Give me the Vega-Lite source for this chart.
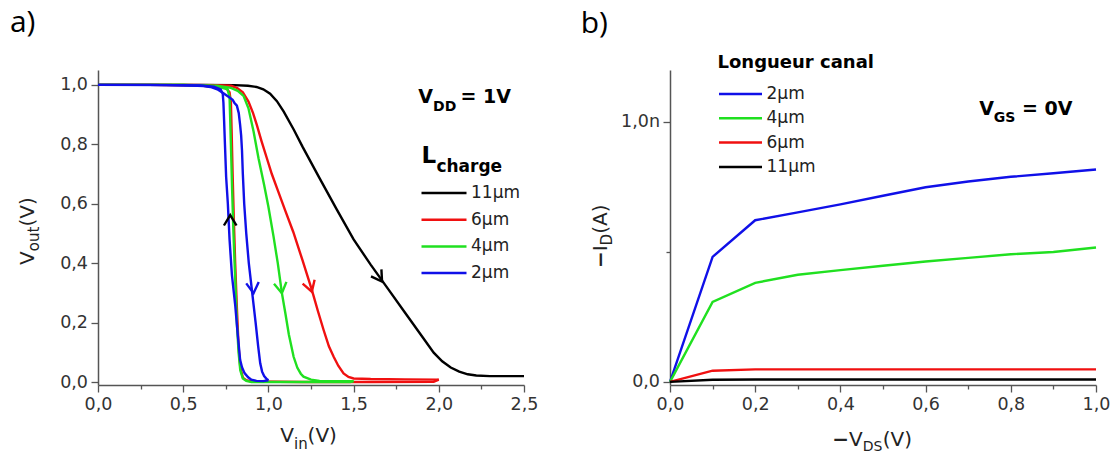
{
  "$schema": "https://vega.github.io/schema/vega-lite/v6.json",
  "background": "white",
  "padding": {"left": 9, "top": 7, "right": 0, "bottom": 0},
  "spacing": 146,
  "bounds": "flush",
  "config": {
    "font": "DejaVu Sans",
    "view": {"stroke": null},
    "axis": {
      "labelFont": "DejaVu Sans", "labelFontSize": 17.5, "labelColor": "#333",
      "domainColor": "#555", "domainWidth": 1.5, "tickColor": "#555", "tickWidth": 1.3,
      "grid": false, "title": null, "labelPadding": 3.5, "labelOverlap": false, "labelFlush": false, "labelBound": false
    },
    "legend": {
      "orient": "none", "padding": 0, "symbolType": "stroke", "symbolStrokeWidth": 2.5,
      "clipHeight": 20, "labelFont": "DejaVu Sans", "labelFontSize": 17, "labelColor": "#222",
      "labelOffset": 3, "symbolOpacity": 1
    },
    "text": {"color": "#000"}
  },
  "resolve": {
    "scale": {"x": "independent", "y": "independent", "color": "independent", "stroke": "independent"},
    "legend": {"color": "independent", "stroke": "independent"}
  },
  "datasets": {
    "one": [{}],
    "transfer": [
      {"L": "11µm", "s": "11f", "i": 0, "vin": 0, "vout": 1.0},
      {"L": "11µm", "s": "11f", "i": 1, "vin": 0.3, "vout": 1.0},
      {"L": "11µm", "s": "11f", "i": 2, "vin": 0.6, "vout": 1.0},
      {"L": "11µm", "s": "11f", "i": 3, "vin": 0.8, "vout": 0.999},
      {"L": "11µm", "s": "11f", "i": 4, "vin": 0.88, "vout": 0.997},
      {"L": "11µm", "s": "11f", "i": 5, "vin": 0.93, "vout": 0.993},
      {"L": "11µm", "s": "11f", "i": 6, "vin": 0.97, "vout": 0.985},
      {"L": "11µm", "s": "11f", "i": 7, "vin": 1.01, "vout": 0.97},
      {"L": "11µm", "s": "11f", "i": 8, "vin": 1.05, "vout": 0.945},
      {"L": "11µm", "s": "11f", "i": 9, "vin": 1.09, "vout": 0.91},
      {"L": "11µm", "s": "11f", "i": 10, "vin": 1.15, "vout": 0.848},
      {"L": "11µm", "s": "11f", "i": 11, "vin": 1.2, "vout": 0.792},
      {"L": "11µm", "s": "11f", "i": 12, "vin": 1.3, "vout": 0.686},
      {"L": "11µm", "s": "11f", "i": 13, "vin": 1.4, "vout": 0.582},
      {"L": "11µm", "s": "11f", "i": 14, "vin": 1.5, "vout": 0.48},
      {"L": "11µm", "s": "11f", "i": 15, "vin": 1.6, "vout": 0.395},
      {"L": "11µm", "s": "11f", "i": 16, "vin": 1.7, "vout": 0.315},
      {"L": "11µm", "s": "11f", "i": 17, "vin": 1.8, "vout": 0.235},
      {"L": "11µm", "s": "11f", "i": 18, "vin": 1.9, "vout": 0.155},
      {"L": "11µm", "s": "11f", "i": 19, "vin": 1.97, "vout": 0.099},
      {"L": "11µm", "s": "11f", "i": 20, "vin": 2.02, "vout": 0.07},
      {"L": "11µm", "s": "11f", "i": 21, "vin": 2.07, "vout": 0.049},
      {"L": "11µm", "s": "11f", "i": 22, "vin": 2.12, "vout": 0.035},
      {"L": "11µm", "s": "11f", "i": 23, "vin": 2.17, "vout": 0.026},
      {"L": "11µm", "s": "11f", "i": 24, "vin": 2.22, "vout": 0.022},
      {"L": "11µm", "s": "11f", "i": 25, "vin": 2.3, "vout": 0.02},
      {"L": "11µm", "s": "11f", "i": 26, "vin": 2.4, "vout": 0.02},
      {"L": "11µm", "s": "11f", "i": 27, "vin": 2.5, "vout": 0.02},

      {"L": "6µm", "s": "6f", "i": 0, "vin": 0, "vout": 1.0},
      {"L": "6µm", "s": "6f", "i": 1, "vin": 0.5, "vout": 1.0},
      {"L": "6µm", "s": "6f", "i": 2, "vin": 0.7, "vout": 0.999},
      {"L": "6µm", "s": "6f", "i": 3, "vin": 0.78, "vout": 0.997},
      {"L": "6µm", "s": "6f", "i": 4, "vin": 0.815, "vout": 0.99},
      {"L": "6µm", "s": "6f", "i": 5, "vin": 0.85, "vout": 0.975},
      {"L": "6µm", "s": "6f", "i": 6, "vin": 0.883, "vout": 0.944},
      {"L": "6µm", "s": "6f", "i": 7, "vin": 0.91, "vout": 0.905},
      {"L": "6µm", "s": "6f", "i": 8, "vin": 0.932, "vout": 0.865},
      {"L": "6µm", "s": "6f", "i": 9, "vin": 0.96, "vout": 0.81},
      {"L": "6µm", "s": "6f", "i": 10, "vin": 0.991, "vout": 0.753},
      {"L": "6µm", "s": "6f", "i": 11, "vin": 1.02, "vout": 0.7},
      {"L": "6µm", "s": "6f", "i": 12, "vin": 1.052, "vout": 0.65},
      {"L": "6µm", "s": "6f", "i": 13, "vin": 1.1, "vout": 0.575},
      {"L": "6µm", "s": "6f", "i": 14, "vin": 1.146, "vout": 0.505},
      {"L": "6µm", "s": "6f", "i": 15, "vin": 1.2, "vout": 0.41},
      {"L": "6µm", "s": "6f", "i": 16, "vin": 1.255, "vout": 0.31},
      {"L": "6µm", "s": "6f", "i": 17, "vin": 1.29, "vout": 0.24},
      {"L": "6µm", "s": "6f", "i": 18, "vin": 1.324, "vout": 0.175},
      {"L": "6µm", "s": "6f", "i": 19, "vin": 1.355, "vout": 0.12},
      {"L": "6µm", "s": "6f", "i": 20, "vin": 1.383, "vout": 0.085},
      {"L": "6µm", "s": "6f", "i": 21, "vin": 1.41, "vout": 0.055},
      {"L": "6µm", "s": "6f", "i": 22, "vin": 1.441, "vout": 0.029},
      {"L": "6µm", "s": "6f", "i": 23, "vin": 1.47, "vout": 0.017},
      {"L": "6µm", "s": "6f", "i": 24, "vin": 1.5, "vout": 0.012},
      {"L": "6µm", "s": "6f", "i": 25, "vin": 1.6, "vout": 0.01},
      {"L": "6µm", "s": "6f", "i": 26, "vin": 1.8, "vout": 0.009},
      {"L": "6µm", "s": "6f", "i": 27, "vin": 2.0, "vout": 0.008},
      {"L": "6µm", "s": "6r", "i": 0, "vin": 2.0, "vout": 0.008},
      {"L": "6µm", "s": "6r", "i": 1, "vin": 1.97, "vout": 0.001},
      {"L": "6µm", "s": "6r", "i": 2, "vin": 1.6, "vout": 0.0},
      {"L": "6µm", "s": "6r", "i": 3, "vin": 1.2, "vout": 0.0},
      {"L": "6µm", "s": "6r", "i": 4, "vin": 0.9, "vout": 0.002},
      {"L": "6µm", "s": "6r", "i": 5, "vin": 0.87, "vout": 0.006},
      {"L": "6µm", "s": "6r", "i": 6, "vin": 0.85, "vout": 0.015},
      {"L": "6µm", "s": "6r", "i": 7, "vin": 0.835, "vout": 0.05},
      {"L": "6µm", "s": "6r", "i": 8, "vin": 0.825, "vout": 0.12},
      {"L": "6µm", "s": "6r", "i": 9, "vin": 0.815, "vout": 0.25},
      {"L": "6µm", "s": "6r", "i": 10, "vin": 0.805, "vout": 0.4},
      {"L": "6µm", "s": "6r", "i": 11, "vin": 0.797, "vout": 0.55},
      {"L": "6µm", "s": "6r", "i": 12, "vin": 0.79, "vout": 0.7},
      {"L": "6µm", "s": "6r", "i": 13, "vin": 0.784, "vout": 0.85},
      {"L": "6µm", "s": "6r", "i": 14, "vin": 0.78, "vout": 0.94},
      {"L": "6µm", "s": "6r", "i": 15, "vin": 0.772, "vout": 0.975},
      {"L": "6µm", "s": "6r", "i": 16, "vin": 0.75, "vout": 0.99},
      {"L": "6µm", "s": "6r", "i": 17, "vin": 0.6, "vout": 0.998},
      {"L": "6µm", "s": "6r", "i": 18, "vin": 0.3, "vout": 1.0},
      {"L": "6µm", "s": "6r", "i": 19, "vin": 0, "vout": 1.0},

      {"L": "4µm", "s": "4f", "i": 0, "vin": 0, "vout": 1.0},
      {"L": "4µm", "s": "4f", "i": 1, "vin": 0.5, "vout": 1.0},
      {"L": "4µm", "s": "4f", "i": 2, "vin": 0.7, "vout": 0.997},
      {"L": "4µm", "s": "4f", "i": 3, "vin": 0.78, "vout": 0.99},
      {"L": "4µm", "s": "4f", "i": 4, "vin": 0.82, "vout": 0.98},
      {"L": "4µm", "s": "4f", "i": 5, "vin": 0.854, "vout": 0.963},
      {"L": "4µm", "s": "4f", "i": 6, "vin": 0.883, "vout": 0.921},
      {"L": "4µm", "s": "4f", "i": 7, "vin": 0.913, "vout": 0.843},
      {"L": "4µm", "s": "4f", "i": 8, "vin": 0.942, "vout": 0.753},
      {"L": "4µm", "s": "4f", "i": 9, "vin": 0.975, "vout": 0.663},
      {"L": "4µm", "s": "4f", "i": 10, "vin": 1.0, "vout": 0.59},
      {"L": "4µm", "s": "4f", "i": 11, "vin": 1.03, "vout": 0.49},
      {"L": "4µm", "s": "4f", "i": 12, "vin": 1.055, "vout": 0.4},
      {"L": "4µm", "s": "4f", "i": 13, "vin": 1.079, "vout": 0.3},
      {"L": "4µm", "s": "4f", "i": 14, "vin": 1.1, "vout": 0.23},
      {"L": "4µm", "s": "4f", "i": 15, "vin": 1.12, "vout": 0.16},
      {"L": "4µm", "s": "4f", "i": 16, "vin": 1.148, "vout": 0.085},
      {"L": "4µm", "s": "4f", "i": 17, "vin": 1.17, "vout": 0.048},
      {"L": "4µm", "s": "4f", "i": 18, "vin": 1.19, "vout": 0.028},
      {"L": "4µm", "s": "4f", "i": 19, "vin": 1.206, "vout": 0.018},
      {"L": "4µm", "s": "4f", "i": 20, "vin": 1.25, "vout": 0.008},
      {"L": "4µm", "s": "4f", "i": 21, "vin": 1.3, "vout": 0.004},
      {"L": "4µm", "s": "4f", "i": 22, "vin": 1.4, "vout": 0.003},
      {"L": "4µm", "s": "4f", "i": 23, "vin": 1.5, "vout": 0.003},
      {"L": "4µm", "s": "4r", "i": 0, "vin": 1.5, "vout": 0.003},
      {"L": "4µm", "s": "4r", "i": 1, "vin": 1.48, "vout": 0.0},
      {"L": "4µm", "s": "4r", "i": 2, "vin": 1.2, "vout": 0.0},
      {"L": "4µm", "s": "4r", "i": 3, "vin": 0.9, "vout": 0.0},
      {"L": "4µm", "s": "4r", "i": 4, "vin": 0.87, "vout": 0.004},
      {"L": "4µm", "s": "4r", "i": 5, "vin": 0.85, "vout": 0.012},
      {"L": "4µm", "s": "4r", "i": 6, "vin": 0.835, "vout": 0.04},
      {"L": "4µm", "s": "4r", "i": 7, "vin": 0.825, "vout": 0.1},
      {"L": "4µm", "s": "4r", "i": 8, "vin": 0.815, "vout": 0.2},
      {"L": "4µm", "s": "4r", "i": 9, "vin": 0.805, "vout": 0.35},
      {"L": "4µm", "s": "4r", "i": 10, "vin": 0.795, "vout": 0.5},
      {"L": "4µm", "s": "4r", "i": 11, "vin": 0.787, "vout": 0.65},
      {"L": "4µm", "s": "4r", "i": 12, "vin": 0.78, "vout": 0.8},
      {"L": "4µm", "s": "4r", "i": 13, "vin": 0.775, "vout": 0.9},
      {"L": "4µm", "s": "4r", "i": 14, "vin": 0.772, "vout": 0.96},
      {"L": "4µm", "s": "4r", "i": 15, "vin": 0.76, "vout": 0.985},
      {"L": "4µm", "s": "4r", "i": 16, "vin": 0.7, "vout": 0.995},
      {"L": "4µm", "s": "4r", "i": 17, "vin": 0.5, "vout": 1.0},
      {"L": "4µm", "s": "4r", "i": 18, "vin": 0, "vout": 1.0},

      {"L": "2µm", "s": "2f", "i": 0, "vin": 0, "vout": 1.0},
      {"L": "2µm", "s": "2f", "i": 1, "vin": 0.4, "vout": 0.999},
      {"L": "2µm", "s": "2f", "i": 2, "vin": 0.55, "vout": 0.998},
      {"L": "2µm", "s": "2f", "i": 3, "vin": 0.62, "vout": 0.996},
      {"L": "2µm", "s": "2f", "i": 4, "vin": 0.66, "vout": 0.993},
      {"L": "2µm", "s": "2f", "i": 5, "vin": 0.7, "vout": 0.985},
      {"L": "2µm", "s": "2f", "i": 6, "vin": 0.736, "vout": 0.972},
      {"L": "2µm", "s": "2f", "i": 7, "vin": 0.77, "vout": 0.958},
      {"L": "2µm", "s": "2f", "i": 8, "vin": 0.79, "vout": 0.95},
      {"L": "2µm", "s": "2f", "i": 9, "vin": 0.8, "vout": 0.94},
      {"L": "2µm", "s": "2f", "i": 10, "vin": 0.815, "vout": 0.93},
      {"L": "2µm", "s": "2f", "i": 11, "vin": 0.826, "vout": 0.905},
      {"L": "2µm", "s": "2f", "i": 12, "vin": 0.834, "vout": 0.865},
      {"L": "2µm", "s": "2f", "i": 13, "vin": 0.84, "vout": 0.83},
      {"L": "2µm", "s": "2f", "i": 14, "vin": 0.845, "vout": 0.78},
      {"L": "2µm", "s": "2f", "i": 15, "vin": 0.85, "vout": 0.7},
      {"L": "2µm", "s": "2f", "i": 16, "vin": 0.858, "vout": 0.6},
      {"L": "2µm", "s": "2f", "i": 17, "vin": 0.87, "vout": 0.5},
      {"L": "2µm", "s": "2f", "i": 18, "vin": 0.885, "vout": 0.4},
      {"L": "2µm", "s": "2f", "i": 19, "vin": 0.905, "vout": 0.3},
      {"L": "2µm", "s": "2f", "i": 20, "vin": 0.925, "vout": 0.2},
      {"L": "2µm", "s": "2f", "i": 21, "vin": 0.94, "vout": 0.12},
      {"L": "2µm", "s": "2f", "i": 22, "vin": 0.952, "vout": 0.063},
      {"L": "2µm", "s": "2f", "i": 23, "vin": 0.963, "vout": 0.035},
      {"L": "2µm", "s": "2f", "i": 24, "vin": 0.975, "vout": 0.02},
      {"L": "2µm", "s": "2f", "i": 25, "vin": 0.99, "vout": 0.01},
      {"L": "2µm", "s": "2f", "i": 26, "vin": 1.0, "vout": 0.006},
      {"L": "2µm", "s": "2r", "i": 0, "vin": 1.0, "vout": 0.006},
      {"L": "2µm", "s": "2r", "i": 1, "vin": 0.97, "vout": 0.003},
      {"L": "2µm", "s": "2r", "i": 2, "vin": 0.93, "vout": 0.004},
      {"L": "2µm", "s": "2r", "i": 3, "vin": 0.9, "vout": 0.008},
      {"L": "2µm", "s": "2r", "i": 4, "vin": 0.881, "vout": 0.016},
      {"L": "2µm", "s": "2r", "i": 5, "vin": 0.86, "vout": 0.03},
      {"L": "2µm", "s": "2r", "i": 6, "vin": 0.845, "vout": 0.05},
      {"L": "2µm", "s": "2r", "i": 7, "vin": 0.834, "vout": 0.075},
      {"L": "2µm", "s": "2r", "i": 8, "vin": 0.82, "vout": 0.16},
      {"L": "2µm", "s": "2r", "i": 9, "vin": 0.805, "vout": 0.26},
      {"L": "2µm", "s": "2r", "i": 10, "vin": 0.786, "vout": 0.36},
      {"L": "2µm", "s": "2r", "i": 11, "vin": 0.772, "vout": 0.48},
      {"L": "2µm", "s": "2r", "i": 12, "vin": 0.762, "vout": 0.6},
      {"L": "2µm", "s": "2r", "i": 13, "vin": 0.752, "vout": 0.69},
      {"L": "2µm", "s": "2r", "i": 14, "vin": 0.745, "vout": 0.8},
      {"L": "2µm", "s": "2r", "i": 15, "vin": 0.74, "vout": 0.88},
      {"L": "2µm", "s": "2r", "i": 16, "vin": 0.736, "vout": 0.94},
      {"L": "2µm", "s": "2r", "i": 17, "vin": 0.732, "vout": 0.97},
      {"L": "2µm", "s": "2r", "i": 18, "vin": 0.72, "vout": 0.985},
      {"L": "2µm", "s": "2r", "i": 19, "vin": 0.68, "vout": 0.994},
      {"L": "2µm", "s": "2r", "i": 20, "vin": 0.6, "vout": 0.998},
      {"L": "2µm", "s": "2r", "i": 21, "vin": 0.3, "vout": 1.0},
      {"L": "2µm", "s": "2r", "i": 22, "vin": 0, "vout": 1.0}
    ],
    "arrows": [
      {"L": "2µm", "vin": 0.913, "vout": 0.299, "heading": -6},
      {"L": "4µm", "vin": 1.079, "vout": 0.299, "heading": -9},
      {"L": "6µm", "vin": 1.255, "vout": 0.304, "heading": -18},
      {"L": "11µm", "vin": 1.667, "vout": 0.338, "heading": -34},
      {"L": "11µm", "vin": 0.776, "vout": 0.562, "heading": 180}
    ],
    "current": [
      {"L": "2µm", "vds": 0, "id": 0}, {"L": "2µm", "vds": 0.1, "id": 0.481}, {"L": "2µm", "vds": 0.2, "id": 0.622},
      {"L": "2µm", "vds": 0.3, "id": 0.652}, {"L": "2µm", "vds": 0.4, "id": 0.683}, {"L": "2µm", "vds": 0.5, "id": 0.716},
      {"L": "2µm", "vds": 0.6, "id": 0.749}, {"L": "2µm", "vds": 0.7, "id": 0.771}, {"L": "2µm", "vds": 0.8, "id": 0.789},
      {"L": "2µm", "vds": 0.9, "id": 0.803}, {"L": "2µm", "vds": 1.0, "id": 0.817},
      {"L": "4µm", "vds": 0, "id": 0}, {"L": "4µm", "vds": 0.1, "id": 0.308}, {"L": "4µm", "vds": 0.2, "id": 0.381},
      {"L": "4µm", "vds": 0.3, "id": 0.412}, {"L": "4µm", "vds": 0.4, "id": 0.43}, {"L": "4µm", "vds": 0.5, "id": 0.447},
      {"L": "4µm", "vds": 0.6, "id": 0.463}, {"L": "4µm", "vds": 0.7, "id": 0.477}, {"L": "4µm", "vds": 0.8, "id": 0.491},
      {"L": "4µm", "vds": 0.9, "id": 0.5}, {"L": "4µm", "vds": 1.0, "id": 0.517},
      {"L": "6µm", "vds": 0, "id": 0}, {"L": "6µm", "vds": 0.1, "id": 0.043}, {"L": "6µm", "vds": 0.2, "id": 0.048},
      {"L": "6µm", "vds": 0.4, "id": 0.048}, {"L": "6µm", "vds": 0.6, "id": 0.048}, {"L": "6µm", "vds": 0.8, "id": 0.048},
      {"L": "6µm", "vds": 1.0, "id": 0.048},
      {"L": "11µm", "vds": 0, "id": 0}, {"L": "11µm", "vds": 0.1, "id": 0.008}, {"L": "11µm", "vds": 0.2, "id": 0.009},
      {"L": "11µm", "vds": 0.6, "id": 0.009}, {"L": "11µm", "vds": 1.0, "id": 0.009}
    ]
  },
  "hconcat": [
    {
      "width": 426,
      "height": 315,
      "layer": [
        {
          "data": {"name": "transfer"},
          "mark": {"type": "line", "strokeWidth": 2.4},
          "encoding": {
            "x": {"field": "vin", "type": "quantitative",
              "scale": {"domain": [0, 2.5], "nice": false, "zero": false},
              "axis": {"title": null, "values": [0, 0.25, 0.5, 0.75, 1, 1.25, 1.5, 1.75, 2, 2.25, 2.5],
                "labelExpr": "round(datum.value*4) % 2 == 0 ? replace(format(datum.value, '.1f'), '.', ',') : ''",
                "tickSize": {"condition": {"test": "round(datum.value*4) % 2 == 0", "value": 7}, "value": 4}}},
            "y": {"field": "vout", "type": "quantitative",
              "scale": {"domain": [-0.01, 1.05], "nice": false, "zero": false},
              "axis": {"title": null, "values": [0, 0.1, 0.2, 0.3, 0.4, 0.5, 0.6, 0.7, 0.8, 0.9, 1.0],
                "labelExpr": "round(datum.value*10) % 2 == 0 ? replace(format(datum.value, '.1f'), '.', ',') : ''",
                "tickSize": {"condition": {"test": "round(datum.value*10) % 2 == 0", "value": 7}, "value": 4}}},
            "color": {"field": "L", "type": "nominal",
              "scale": {"domain": ["11µm", "6µm", "4µm", "2µm"], "range": ["#000000", "#f01010", "#20e020", "#1010e8"]},
              "legend": {"title": null, "legendX": 322, "legendY": 113, "symbolSize": 2025, "rowPadding": 6.7}},
            "detail": {"field": "s", "type": "nominal"},
            "order": {"field": "i", "type": "quantitative"}
          }
        },
        {
          "data": {"name": "arrows"},
          "mark": {"type": "point", "shape": "M-0.6,-1L0,0L0.6,-1", "filled": false, "size": 440, "strokeWidth": 2.4, "opacity": 1},
          "encoding": {
            "x": {"field": "vin", "type": "quantitative", "axis": {"title": null}},
            "y": {"field": "vout", "type": "quantitative", "axis": {"title": null}},
            "stroke": {"field": "L", "type": "nominal",
              "scale": {"domain": ["11µm", "6µm", "4µm", "2µm"], "range": ["#000000", "#f01010", "#20e020", "#1010e8"]},
              "legend": null},
            "angle": {"field": "heading", "type": "quantitative", "scale": null}
          }
        },
        {"data": {"name": "one"}, "mark": {"type": "text", "text": "a)", "font": "Open Sans", "fontSize": 30, "align": "left", "baseline": "alphabetic"},
         "encoding": {"x": {"datum": -0.517}, "y": {"datum": 1.178}}},
        {"data": {"name": "one"}, "mark": {"type": "text", "text": "V", "fontWeight": "bold", "fontSize": 19, "align": "left", "baseline": "alphabetic"},
         "encoding": {"x": {"datum": 1.88}, "y": {"datum": 0.938}}},
        {"data": {"name": "one"}, "mark": {"type": "text", "text": "DD", "fontWeight": "bold", "fontSize": 14, "align": "left", "baseline": "alphabetic"},
         "encoding": {"x": {"datum": 1.966}, "y": {"datum": 0.912}}},
        {"data": {"name": "one"}, "mark": {"type": "text", "text": "= 1V", "fontWeight": "bold", "fontSize": 19, "align": "left", "baseline": "alphabetic"},
         "encoding": {"x": {"datum": 2.127}, "y": {"datum": 0.938}}},
        {"data": {"name": "one"}, "mark": {"type": "text", "text": "L", "fontWeight": "bold", "fontSize": 23, "align": "left", "baseline": "alphabetic"},
         "encoding": {"x": {"datum": 1.898}, "y": {"datum": 0.736}}},
        {"data": {"name": "one"}, "mark": {"type": "text", "text": "charge", "fontWeight": "bold", "fontSize": 17, "align": "left", "baseline": "alphabetic"},
         "encoding": {"x": {"datum": 1.986}, "y": {"datum": 0.707}}},
        {"data": {"name": "one"}, "mark": {"type": "text", "text": "V", "fontSize": 20, "align": "left", "baseline": "alphabetic", "color": "#222"},
         "encoding": {"x": {"datum": 1.069}, "y": {"datum": -0.202}}},
        {"data": {"name": "one"}, "mark": {"type": "text", "text": "in", "fontSize": 15, "align": "left", "baseline": "alphabetic", "color": "#222"},
         "encoding": {"x": {"datum": 1.15}, "y": {"datum": -0.2256}}},
        {"data": {"name": "one"}, "mark": {"type": "text", "text": "(V)", "fontSize": 20, "align": "left", "baseline": "alphabetic", "color": "#222"},
         "encoding": {"x": {"datum": 1.23}, "y": {"datum": -0.202}}},
        {"data": {"name": "one"}, "mark": {"type": "text", "text": "V", "fontSize": 20, "align": "left", "baseline": "alphabetic", "angle": 270, "color": "#222"},
         "encoding": {"x": {"datum": -0.376}, "y": {"datum": 0.394}}},
        {"data": {"name": "one"}, "mark": {"type": "text", "text": "out", "fontSize": 15, "align": "left", "baseline": "alphabetic", "angle": 270, "color": "#222"},
         "encoding": {"x": {"datum": -0.347}, "y": {"datum": 0.44}}},
        {"data": {"name": "one"}, "mark": {"type": "text", "text": "(V)", "fontSize": 20, "align": "left", "baseline": "alphabetic", "angle": 270, "color": "#222"},
         "encoding": {"x": {"datum": -0.376}, "y": {"datum": 0.523}}}
      ]
    },
    {
      "width": 426,
      "height": 315,
      "layer": [
        {
          "data": {"name": "current"},
          "mark": {"type": "line", "strokeWidth": 2.4},
          "encoding": {
            "x": {"field": "vds", "type": "quantitative",
              "scale": {"domain": [0, 1], "nice": false, "zero": false},
              "axis": {"title": null, "values": [0, 0.1, 0.2, 0.3, 0.4, 0.5, 0.6, 0.7, 0.8, 0.9, 1.0],
                "labelExpr": "round(datum.value*10) % 2 == 0 ? replace(format(datum.value, '.1f'), '.', ',') : ''",
                "tickSize": {"condition": {"test": "round(datum.value*10) % 2 == 0", "value": 7}, "value": 4}}},
            "y": {"field": "id", "type": "quantitative",
              "scale": {"domain": [-0.012, 1.2], "nice": false, "zero": false},
              "axis": {"title": null, "values": [0, 0.5, 1.0],
                "labelExpr": "datum.value == 0 ? '0,0' : (datum.value == 1 ? '1,0n' : '')",
                "tickSize": {"condition": {"test": "round(datum.value*2) % 2 == 0", "value": 7}, "value": 4}}},
            "color": {"field": "L", "type": "nominal",
              "scale": {"domain": ["2µm", "4µm", "6µm", "11µm"], "range": ["#1010e8", "#20e020", "#f01010", "#000000"]},
              "legend": {"title": "Longueur canal", "titleFont": "DejaVu Sans", "titleFontWeight": "bold", "titleFontSize": 18,
                "titleColor": "#000", "titlePadding": 12, "legendX": 47.5, "legendY": -16, "symbolSize": 1849, "rowPadding": 4.3}},
            "detail": {"field": "L", "type": "nominal"},
            "order": {"field": "vds", "type": "quantitative"}
          }
        },
        {"data": {"name": "one"}, "mark": {"type": "text", "text": "b)", "font": "Open Sans", "fontSize": 30, "align": "left", "baseline": "alphabetic"},
         "encoding": {"x": {"datum": -0.2098}, "y": {"datum": 1.341}}},
        {"data": {"name": "one"}, "mark": {"type": "text", "text": "V", "fontWeight": "bold", "fontSize": 19, "align": "left", "baseline": "alphabetic"},
         "encoding": {"x": {"datum": 0.726}, "y": {"datum": 1.026}}},
        {"data": {"name": "one"}, "mark": {"type": "text", "text": "GS", "fontWeight": "bold", "fontSize": 14, "align": "left", "baseline": "alphabetic"},
         "encoding": {"x": {"datum": 0.76}, "y": {"datum": 0.999}}},
        {"data": {"name": "one"}, "mark": {"type": "text", "text": "= 0V", "fontWeight": "bold", "fontSize": 19, "align": "left", "baseline": "alphabetic"},
         "encoding": {"x": {"datum": 0.8265}, "y": {"datum": 1.026}}},
        {"data": {"name": "one"}, "mark": {"type": "text", "text": "−", "fontWeight": "bold", "fontSize": 20, "align": "left", "baseline": "alphabetic", "color": "#222"},
         "encoding": {"x": {"datum": 0.381}, "y": {"datum": -0.2459}}},
        {"data": {"name": "one"}, "mark": {"type": "text", "text": "V", "fontSize": 20, "align": "left", "baseline": "alphabetic", "color": "#222"},
         "encoding": {"x": {"datum": 0.42}, "y": {"datum": -0.2459}}},
        {"data": {"name": "one"}, "mark": {"type": "text", "text": "DS", "fontSize": 14, "align": "left", "baseline": "alphabetic", "color": "#222"},
         "encoding": {"x": {"datum": 0.4525}, "y": {"datum": -0.265}}},
        {"data": {"name": "one"}, "mark": {"type": "text", "text": "(V)", "fontSize": 20, "align": "left", "baseline": "alphabetic", "color": "#222"},
         "encoding": {"x": {"datum": 0.4995}, "y": {"datum": -0.2459}}},
        {"data": {"name": "one"}, "mark": {"type": "text", "text": "−", "fontWeight": "bold", "fontSize": 20, "align": "left", "baseline": "alphabetic", "angle": 270, "color": "#222"},
         "encoding": {"x": {"datum": -0.149}, "y": {"datum": 0.438}}},
        {"data": {"name": "one"}, "mark": {"type": "text", "text": "I", "fontSize": 20, "align": "left", "baseline": "alphabetic", "angle": 270, "color": "#222"},
         "encoding": {"x": {"datum": -0.149}, "y": {"datum": 0.5025}}},
        {"data": {"name": "one"}, "mark": {"type": "text", "text": "D", "fontSize": 15, "align": "left", "baseline": "alphabetic", "angle": 270, "color": "#222"},
         "encoding": {"x": {"datum": -0.137}, "y": {"datum": 0.525}}},
        {"data": {"name": "one"}, "mark": {"type": "text", "text": "(A)", "fontSize": 20, "align": "left", "baseline": "alphabetic", "angle": 270, "color": "#222"},
         "encoding": {"x": {"datum": -0.149}, "y": {"datum": 0.57}}}
      ]
    }
  ]
}
